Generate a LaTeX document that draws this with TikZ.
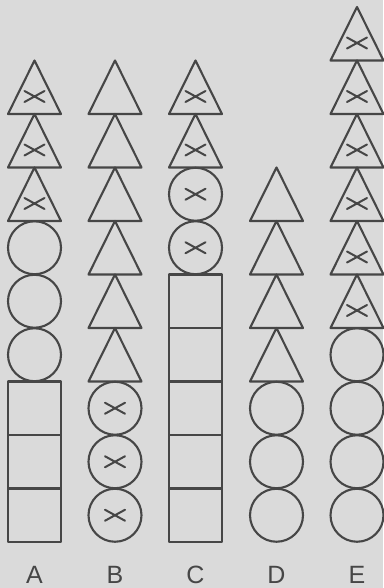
\documentclass[tikz,border=0pt]{standalone}
\usepackage{fontspec}
\setmainfont{Liberation Sans}
\definecolor{bgc}{RGB}{218,218,218}
\definecolor{inkc}{RGB}{70,70,70}
\tikzset{
  shp/.style={draw=inkc, line width=2.1pt, line join=round},
  xmark/.style={draw=inkc, line width=2pt, line cap=round},
  lbl/.style={text=inkc, font=\fontsize{25}{25}\selectfont, inner sep=0pt, anchor=base}
}
\newcommand\mysq[2]{\draw[shp] ({#1-26.5},{46+#2*53.5}) rectangle ({#1+26.5},{46+(#2+1)*53.5});}
\newcommand\mycirc[2]{\draw[shp] (#1,{46+(#2+0.5)*53.5}) circle (26.5);}
\newcommand\mytri[2]{\draw[shp] ({#1-26.5},{46+#2*53.5}) -- (#1,{46+(#2+1)*53.5}) -- ({#1+26.5},{46+#2*53.5}) -- cycle;}
\newcommand\mycross[2]{\draw[xmark] ({#1-10},{#2-5.5}) -- ({#1+10},{#2+5.5}) ({#1-10},{#2+5.5}) -- ({#1+10},{#2-5.5});}
\newcommand\mytrix[2]{\mytri{#1}{#2}\mycross{#1}{46+#2*53.5+17.5}}
\newcommand\mycircx[2]{\mycirc{#1}{#2}\mycross{#1}{46+(#2+0.5)*53.5}}
\begin{document}
\begin{tikzpicture}[x=1pt,y=1pt]
\fill[bgc] (0,0) rectangle (383,588);
\useasboundingbox (0,0) rectangle (383,588);
% column A
\foreach \k in {0,1,2} {\mysq{34.5}{\k}}
\foreach \k in {3,4,5} {\mycirc{34.5}{\k}}
\foreach \k in {6,7,8} {\mytrix{34.5}{\k}}
% column B
\foreach \k in {0,1,2} {\mycircx{115}{\k}}
\foreach \k in {3,...,8} {\mytri{115}{\k}}
% column C
\foreach \k in {0,...,4} {\mysq{195.5}{\k}}
\foreach \k in {5,6} {\mycircx{195.5}{\k}}
\foreach \k in {7,8} {\mytrix{195.5}{\k}}
% column D
\foreach \k in {0,1,2} {\mycirc{276.5}{\k}}
\foreach \k in {3,...,6} {\mytri{276.5}{\k}}
% column E
\foreach \k in {0,...,3} {\mycirc{357}{\k}}
\foreach \k in {4,...,9} {\mytrix{357}{\k}}
% labels
\node[lbl] (la) at (34.5,5) {A};
\node[lbl] (lb) at (115,5) {B};
\node[lbl] (lc) at (195.5,5) {C};
\node[lbl] (ld) at (276.5,5) {D};
\node[lbl] (le) at (357,5) {E};
\end{tikzpicture}
\end{document}
